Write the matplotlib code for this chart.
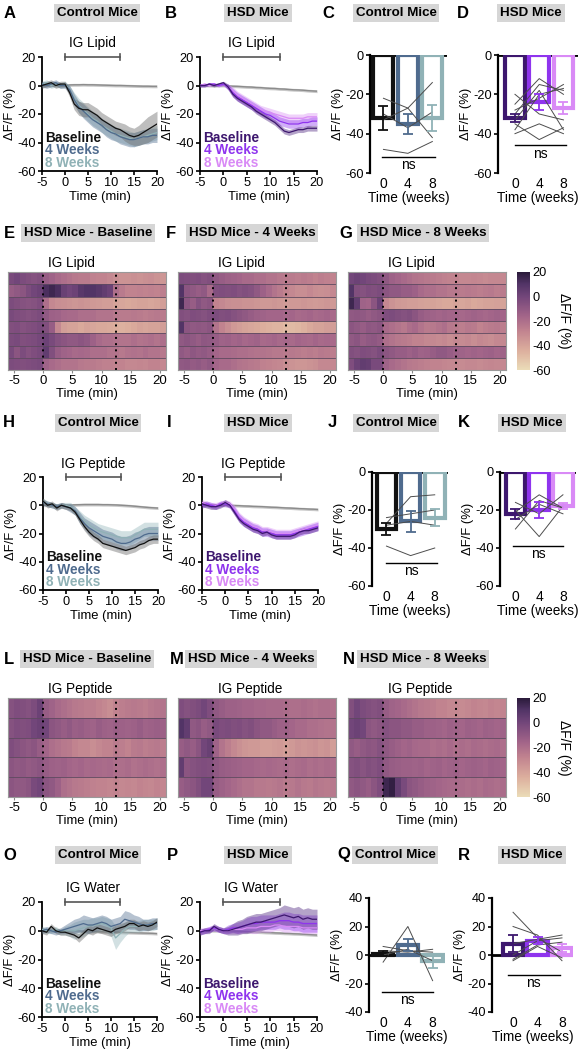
import numpy as np
import matplotlib
matplotlib.use("Agg")
import matplotlib.pyplot as plt
from matplotlib.colors import LinearSegmentedColormap

plt.rcParams['font.family'] = ['Liberation Sans', 'DejaVu Sans']
plt.rcParams['axes.unicode_minus'] = False

# ---------------------------------------------------------------- data
time_min = list(range(-5, 21))
ref_sem = 1.0

# Lipid, control (A)
lip_ctrl_base = [0, 1, 2, 0, 1, 1, -5, -13, -16, -17, -17, -19, -21, -24, -26, -28, -30, -31, -33, -35, -36, -35, -33, -31, -29, -27]
lip_ctrl_base_sem = [2, 2, 2, 2, 2, 2, 3, 4, 5, 5, 5, 5, 5, 5, 5, 5, 5, 5, 6, 6, 6, 7, 8, 9, 9, 9]
lip_ctrl_w4 = [1, 0, 1, 2, 0, 0, -3, -10, -15, -18, -21, -24, -26, -28, -31, -33, -34, -36, -37, -38, -38, -37, -36, -36, -35, -35]
lip_ctrl_w4_sem = [2, 2, 2, 2, 2, 2, 3, 4, 4, 5, 5, 5, 5, 5, 5, 5, 5, 5, 5, 5, 5, 5, 5, 5, 5, 5]
lip_ctrl_w8 = [1, 2, 0, 1, 0, 1, -3, -9, -14, -17, -20, -23, -25, -28, -30, -32, -34, -35, -36, -37, -38, -37, -36, -35, -34, -33]
lip_ctrl_w8_sem = [2, 2, 2, 2, 2, 2, 3, 4, 5, 5, 5, 5, 5, 5, 5, 5, 5, 5, 5, 5, 5, 5, 5, 5, 5, 5]
lip_ctrl_ref = [0, 0, 0.2, 0, 0, 0, 0.4, 0.5, 0.5, 0.6, 0.5, 0.5, 0.4, 0.3, 0.2, 0.1, 0, 0, -0.1, -0.2, -0.3, -0.4, -0.5, -0.5, -0.6, -0.6]

# Lipid, HSD (B)
lip_hsd_base = [0, 0, 1, 0, 1, 2, -1, -6, -9, -11, -13, -15, -18, -20, -22, -24, -26, -29, -32, -33, -32, -31, -31, -30, -30, -30]
lip_hsd_base_sem = [1, 1, 1, 1, 1, 1, 2, 2, 2, 2, 2, 2, 2, 2, 2, 2, 2, 2, 2, 2, 2, 2, 2, 2, 2, 2]
lip_hsd_w4 = [0, 0, 1, 1, 0, 1, -1, -5, -8, -10, -12, -14, -16, -18, -20, -21, -23, -25, -26, -27, -27, -27, -26, -26, -25, -25]
lip_hsd_w4_sem = [1, 1, 1, 1, 1, 1, 2, 3, 3, 3, 3, 3, 3, 3, 3, 3, 3, 3, 3, 3, 3, 3, 3, 3, 3, 3]
lip_hsd_w8 = [0, 1, 0, 1, 0, 1, -1, -4, -7, -9, -11, -13, -15, -17, -18, -19, -20, -21, -22, -23, -23, -23, -23, -22, -22, -22]
lip_hsd_w8_sem = [1, 1, 1, 1, 1, 1, 2, 3, 3, 3, 3, 3, 3, 3, 3, 3, 3, 3, 3, 3, 3, 3, 3, 3, 3, 3]
lip_hsd_ref = [0, 0, 0, -0.2, 0, 0, -0.3, -0.5, -0.6, -0.8, -1.0, -1.1, -1.4, -1.5, -1.8, -2.0, -2.1, -2.4, -2.5, -2.8, -3.0, -3.1, -3.3, -3.6, -3.8, -4.0]

# Peptide, control (H)
pep_ctrl_base = [3, 0, 1, -2, 0, -1, -2, -5, -10, -15, -19, -22, -24, -27, -28, -29, -30, -31, -32, -31, -30, -28, -27, -25, -24, -24]
pep_ctrl_base_sem = [2, 2, 2, 2, 2, 2, 2, 2, 3, 3, 3, 3, 3, 3, 3, 3, 3, 3, 3, 3, 3, 3, 3, 3, 3, 3]
pep_ctrl_w4 = [2, 1, 0, -1, 0, -1, -2, -4, -9, -13, -16, -18, -20, -22, -23, -24, -26, -27, -27, -26, -24, -23, -21, -20, -20, -20]
pep_ctrl_w4_sem = [2, 2, 2, 2, 2, 2, 3, 3, 4, 4, 5, 5, 5, 5, 5, 5, 5, 5, 5, 5, 5, 5, 5, 5, 5, 5]
pep_ctrl_w8 = [3, 1, 0, -1, 0, 0, -1, -4, -8, -11, -14, -16, -18, -19, -20, -21, -22, -23, -23, -23, -21, -19, -17, -17, -17, -17]
pep_ctrl_w8_sem = [2, 2, 2, 2, 2, 2, 3, 3, 4, 4, 5, 5, 5, 5, 5, 5, 5, 5, 5, 5, 5, 5, 5, 5, 5, 5]
pep_ctrl_ref = [0, 0, 0, 0, 0, 0, 0.2, 0.3, 0.4, 0.5, 0.5, 0.5, 0.5, 0.4, 0.4, 0.3, 0.2, 0, -0.2, -0.4, -0.7, -1.0, -1.3, -1.6, -1.8, -2.0]

# Peptide, HSD (I)
pep_hsd_base = [1, 0, -1, -1, 0, 2, 0, -5, -10, -13, -15, -17, -18, -20, -19, -21, -22, -22, -22, -22, -21, -19, -18, -18, -17, -16]
pep_hsd_base_sem = [2, 2, 2, 2, 2, 2, 2, 2, 2, 2, 2, 2, 2, 2, 2, 2, 2, 2, 2, 2, 2, 2, 2, 2, 2, 2]
pep_hsd_w4 = [0, 1, 0, -1, 1, 1, 0, -4, -9, -12, -14, -16, -17, -19, -19, -20, -21, -21, -21, -21, -20, -19, -18, -17, -16, -15]
pep_hsd_w4_sem = [2, 2, 2, 2, 2, 2, 2, 3, 3, 3, 3, 3, 3, 3, 3, 3, 3, 3, 3, 3, 3, 3, 3, 3, 3, 3]
pep_hsd_w8 = [2, 1, 0, 0, 1, 2, 1, -3, -8, -11, -13, -15, -16, -18, -18, -19, -20, -20, -20, -20, -19, -18, -17, -16, -15, -14]
pep_hsd_w8_sem = [2, 2, 2, 2, 2, 2, 2, 3, 3, 3, 3, 3, 3, 3, 3, 3, 3, 3, 3, 3, 3, 3, 3, 3, 3, 3]
pep_hsd_ref = [0, 0, 0, 0, 0, 0, -0.1, -0.2, -0.3, -0.5, -0.6, -0.8, -0.9, -1.0, -1.2, -1.4, -1.5, -1.7, -1.9, -2.0, -2.2, -2.4, -2.5, -2.7, -2.8, -3.0]

# Water, control (O)
wat_ctrl_base = [0, -1, 3, 0, -1, -1, -2, -3, -5, -2, 1, 0, 2, 1, 0, -1, 1, 2, 3, 5, 5, 3, 4, 3, 4, 6]
wat_ctrl_base_sem = [2, 2, 2, 2, 2, 2, 2, 2, 3, 3, 3, 3, 3, 3, 3, 3, 3, 3, 3, 3, 3, 3, 3, 3, 3, 3]
wat_ctrl_w4 = [0, 1, 0, -1, 0, 1, 2, 3, 4, 5, 4, 4, 5, 6, 5, 3, 4, 5, 8, 7, 6, 5, 4, 4, 5, 5]
wat_ctrl_w4_sem = [2, 2, 2, 2, 2, 3, 4, 5, 5, 6, 6, 5, 5, 5, 5, 5, 5, 5, 6, 6, 5, 5, 4, 4, 4, 4]
wat_ctrl_w8 = [1, 0, 0, 1, -1, 0, 0, 0, 1, 2, 3, 4, 4, 5, 4, 2, -5, -2, 1, 3, 3, 3, 4, 4, 4, 5]
wat_ctrl_w8_sem = [2, 2, 2, 2, 2, 3, 4, 6, 6, 6, 5, 5, 5, 5, 5, 6, 8, 6, 5, 4, 4, 4, 4, 4, 4, 4]
wat_ctrl_ref = [0, 0, 0, 0, 0, 0, 0, -0.1, -0.2, -0.3, -0.4, -0.5, -0.6, -0.7, -0.8, -0.9, -1.0, -1.1, -1.2, -1.3, -1.4, -1.5, -1.6, -1.7, -1.8, -2.0]

# Water, HSD (P)
wat_hsd_base = [-1, 0, 0, 3, 1, 0, 0, 1, 2, 3, 4, 5, 6, 6, 7, 8, 9, 10, 11, 10, 9, 10, 8, 9, 8, 8]
wat_hsd_base_sem = [2, 2, 2, 2, 2, 2, 3, 4, 5, 5, 6, 6, 6, 6, 6, 6, 6, 6, 7, 7, 7, 7, 7, 7, 7, 7]
wat_hsd_w4 = [-1, 0, 1, 2, 1, 0, 1, 2, 2, 3, 4, 5, 5, 6, 6, 6, 6, 7, 7, 7, 6, 6, 5, 5, 5, 5]
wat_hsd_w4_sem = [2, 2, 2, 2, 2, 2, 3, 3, 4, 4, 5, 5, 5, 5, 5, 5, 5, 5, 6, 6, 6, 6, 6, 6, 6, 6]
wat_hsd_w8 = [0, 0, 1, 2, 1, 0, 0, 1, 1, 1, 2, 2, 2, 3, 3, 3, 4, 4, 3, 3, 3, 3, 2, 2, 2, 2]
wat_hsd_w8_sem = [2, 2, 2, 2, 2, 2, 2, 3, 3, 3, 3, 4, 4, 4, 4, 4, 4, 4, 4, 4, 4, 4, 4, 4, 4, 4]
wat_hsd_ref = [0, 0, 0, 0, 0, 0, -0.1, -0.2, -0.4, -0.5, -0.6, -0.8, -0.9, -1.0, -1.2, -1.3, -1.5, -1.6, -1.8, -1.9, -2.1, -2.2, -2.4, -2.6, -2.8, -3.0]

# Bar charts: week categories, bar means, SEM, individual mice
week_labels = ['0', '4', '8']
lip_ctrl_bar = [-32, -35, -32]
lip_ctrl_bar_sem = [6, 5, 6.5]
lip_ctrl_mice = [[-22, -27, -14], [-30, -37, -29], [-33, -27, -42], [-48, -50, -44]]
lip_hsd_bar = [-32, -24, -27]
lip_hsd_bar_sem = [2, 4, 3]
lip_hsd_mice = [[-25, -12, -20], [-30, -15, -18], [-38, -20, -17], [-40, -35, -40],
                [-20, -30, -33], [-35, -43, -37], [-28, -22, -15], [-33, -18, -38]]
pep_ctrl_bar = [-30, -26, -24]
pep_ctrl_bar_sem = [3, 5.5, 4.5]
pep_ctrl_mice = [[-27, -13, -12], [-24, -22, -20], [-28, -26, -28], [-39, -44, -40]]
pep_hsd_bar = [-22, -20, -18]
pep_hsd_bar_sem = [2.5, 4, 1.5]
pep_hsd_mice = [[-21, -12, -19], [-20, -34, -18], [-16, -22, -12], [-25, -17, -22], [-30, -15, -19]]
wat_ctrl_bar = [1, 7, -4]
wat_ctrl_bar_sem = [2, 4.5, 5]
wat_ctrl_mice = [[-5, 20, -18], [6, 3, 2], [3, 2, 4], [0, 4, -4]]
wat_hsd_bar = [8, 10, 5]
wat_hsd_bar_sem = [6, 2.5, 3]
wat_hsd_mice = [[30, 12, 2], [20, 14, -4], [8, 11, 14], [0, 10, 12], [-3, 7, 9], [-4, 6, -2]]

# Heatmaps (rows = mice, columns = 1-min bins from -6 to 21 min)
heat_time_edges = list(range(-6, 22))
heat_lip_base = [
    [-2, 0, -3, -5, -6, -5, -12, -15, -18, -20, -22, -24, -25, -25, -27, -28, -28, -30, -32, -34, -34, -33, -34, -33, -32, -34, -35],
    [-12, -10, -8, -3, 0, 2, 12, 15, 12, 3, 0, 2, 8, 10, 10, 8, 5, 2, -20, -25, -28, -28, -27, -28, -27, -28, -26],
    [-3, -5, -6, -7, -6, -4, -20, -30, -32, -33, -34, -35, -34, -35, -36, -37, -38, -38, -40, -41, -42, -41, -40, -40, -41, -40, -38],
    [-2, -4, -5, -6, -5, -3, -10, -14, -15, -17, -18, -18, -20, -20, -20, -22, -22, -22, -24, -25, -25, -24, -25, -26, -25, -24, -25],
    [-5, -4, -6, -5, -4, -2, -5, -12, -30, -38, -40, -40, -42, -40, -41, -42, -42, -43, -44, -45, -44, -42, -40, -41, -40, -40, -38],
    [-3, -2, -5, -4, -3, -1, 2, -2, -6, -8, -10, -10, -8, -10, -14, -18, -20, -20, -21, -22, -22, -20, -22, -21, -20, -22, -20],
    [-2, -8, -3, -6, -4, -2, 5, -5, -12, -15, -16, -18, -17, -18, -20, -20, -20, -22, -22, -24, -22, -21, -22, -20, -22, -22, -24],
    [-3, -4, -5, -4, -3, -2, -15, -18, -20, -22, -22, -22, -24, -25, -25, -26, -27, -27, -28, -28, -30, -30, -29, -30, -28, -28, -30],
]
heat_lip_w4 = [
    [-3, -4, -5, -4, -6, -5, -10, -12, -14, -15, -16, -18, -18, -20, -20, -22, -22, -24, -25, -25, -26, -25, -26, -28, -26, -27, -28],
    [10, -8, -10, -12, -10, -18, -5, -4, -5, -4, -6, -5, -6, -10, -14, -18, -22, -25, -28, -30, -32, -32, -30, -32, -33, -32, -30],
    [15, -8, -12, -6, -10, -8, -28, -30, -32, -33, -33, -34, -34, -35, -36, -36, -35, -36, -37, -36, -36, -35, -36, -37, -36, -35, -36],
    [-5, -6, -4, -5, -6, -4, -3, -5, -4, -6, -8, -10, -12, -14, -15, -16, -16, -16, -17, -16, -18, -17, -16, -18, -17, -16, -18],
    [10, -8, -10, -9, -10, -8, -22, -28, -32, -36, -38, -40, -41, -42, -44, -45, -46, -46, -48, -48, -47, -45, -42, -40, -40, -38, -38],
    [-10, -8, -10, -12, -9, -10, -12, -15, -14, -16, -15, -17, -16, -15, -18, -17, -16, -18, -17, -18, -16, -17, -18, -16, -18, -17, -18],
    [-10, -12, -9, -11, -10, -12, -16, -18, -18, -19, -20, -20, -21, -22, -22, -23, -24, -24, -25, -24, -25, -26, -25, -26, -24, -25, -26],
    [-10, -9, -11, -10, -12, -10, -16, -18, -18, -20, -22, -23, -24, -25, -27, -28, -29, -30, -32, -34, -35, -35, -34, -33, -30, -30, -30],
]
heat_lip_w8 = [
    [0, 2, 0, -2, -3, -5, -10, -14, -16, -18, -20, -22, -23, -24, -25, -26, -27, -28, -28, -30, -30, -29, -30, -31, -30, -30, -30],
    [10, -5, -6, -4, -5, -3, -8, -10, -10, -12, -12, -14, -18, -20, -20, -22, -22, -24, -24, -25, -24, -25, -26, -25, -24, -26, -25],
    [15, 5, -15, -16, -8, 2, -30, -34, -36, -37, -38, -38, -39, -40, -40, -41, -42, -42, -40, -41, -40, -42, -41, -40, -40, -39, -40],
    [-10, -9, -10, -12, -10, -8, -4, -3, -5, -6, -5, -8, -12, -14, -15, -16, -15, -16, -16, -17, -16, -15, -16, -17, -16, -15, -16],
    [-8, -10, -12, -9, -10, -8, -18, -20, -22, -24, -20, -18, -22, -25, -24, -22, -20, -24, -25, -26, -24, -25, -28, -26, -25, -24, -26],
    [-10, -8, -12, -10, -9, -11, -20, -22, -24, -25, -26, -28, -28, -30, -30, -31, -30, -32, -30, -31, -30, -32, -30, -31, -32, -30, -30],
    [-5, -6, -4, -5, -6, -3, -8, -10, -12, -12, -14, -12, -15, -14, -12, -10, -10, -12, -14, -15, -16, -15, -16, -15, -14, -16, -15],
    [-4, 2, 5, 4, -2, -2, -15, -18, -20, -22, -24, -25, -26, -27, -28, -28, -29, -30, -30, -31, -30, -30, -31, -30, -29, -30, -30],
]
heat_pep_base = [
    [-6, -4, -5, -6, -3, 2, -12, -15, -18, -20, -22, -24, -25, -26, -26, -28, -30, -32, -28, -26, -25, -24, -25, -26, -24, -23, -22],
    [-6, -4, -5, -4, 0, 2, 0, -8, -10, -12, -10, -13, -12, -14, -15, -12, -14, -15, -13, -14, -15, -14, -12, -15, -14, -13, -14],
    [-4, -6, -8, -10, -8, -12, -16, -20, -22, -24, -25, -28, -30, -30, -32, -30, -28, -28, -25, -26, -28, -25, -24, -26, -25, -24, -26],
    [-8, -10, -9, -11, -10, -8, -12, -14, -15, -14, -16, -17, -16, -18, -17, -18, -19, -18, -20, -20, -19, -21, -20, -19, -20, -21, -20],
    [-8, -10, -10, -8, -2, 0, -8, -10, -14, -20, -22, -24, -25, -26, -27, -28, -28, -29, -28, -30, -29, -30, -28, -29, -30, -28, -29],
]
heat_pep_w4 = [
    [-4, -6, -5, -3, 0, -4, -10, -12, -14, -14, -15, -16, -16, -17, -17, -18, -18, -18, -19, -20, -20, -19, -20, -21, -20, -20, -21],
    [10, 5, -10, -8, -12, -10, -2, -4, -3, -5, -4, -6, -5, -8, -10, -10, -12, -14, -14, -16, -18, -18, -20, -20, -21, -22, -22],
    [-12, -10, -12, -8, 0, 3, -15, -22, -26, -30, -33, -35, -36, -36, -38, -38, -37, -36, -38, -36, -34, -35, -34, -33, -35, -34, -38],
    [5, -8, -6, -5, -4, -5, -10, -12, -13, -14, -15, -16, -16, -17, -18, -17, -18, -19, -18, -20, -19, -18, -20, -19, -20, -19, -20],
    [-12, -10, -8, -5, 0, 0, -12, -14, -16, -18, -20, -22, -22, -24, -24, -25, -24, -23, -25, -24, -22, -24, -25, -23, -24, -25, -24],
]
heat_pep_w8 = [
    [-5, 0, -3, -5, -6, -5, -12, -15, -16, -18, -20, -22, -24, -25, -26, -28, -28, -30, -30, -31, -30, -28, -29, -30, -28, -29, -28],
    [0, 2, 0, -8, -10, -8, -6, -8, -8, -10, -10, -12, -12, -14, -14, -15, -16, -14, -15, -16, -14, -15, -16, -14, -15, -16, -15],
    [-10, -12, -10, -8, -9, -6, -10, -12, -14, -16, -15, -17, -18, -18, -20, -19, -20, -18, -20, -19, -20, -18, -19, -20, -19, -18, -20],
    [-6, -5, -7, -5, -6, -4, -10, -12, -13, -14, -14, -15, -14, -16, -15, -14, -16, -15, -14, -16, -15, -14, -15, -16, -14, -15, -16],
    [-10, -8, -10, -12, -8, -4, 15, 18, 5, -2, -8, -10, -12, -14, -15, -16, -17, -18, -18, -19, -20, -19, -20, -18, -19, -20, -19],
]

# ---------------------------------------------------------------- style
CTRL = ['#111111', '#4f6b8e', '#90b2b6']
CTRL_BAND = ['#6f6f6f', '#5d7898', '#9cbcbf']
HSD = ['#3d176e', '#8f34ee', '#d98af6']
HSD_BAND = ['#5a3388', '#9b4cf0', '#dc9af5']
LEG = ['Baseline', '4 Weeks', '8 Weeks']
cmap = LinearSegmentedColormap.from_list(
    'mauve', [(0.0, '#ebdcb8'), (0.2, '#dcae9d'), (0.4, '#c1838f'), (0.55, '#a36589'),
              (0.75, '#73467a'), (0.88, '#523466'), (1.0, '#2a1a3a')])

W, H = 580, 1050
fig = plt.figure(figsize=(W / 100, H / 100), dpi=100)
FS = 9.2


def px_axes(x0, y0, x1, y1):
    return fig.add_axes([x0 / W, 1 - y1 / H, (x1 - x0) / W, (y1 - y0) / H])


def ftext(x, y, s, **kw):
    fig.text(x / W, 1 - y / H, s, **kw)


def header(letter, lx, title, cx, y):
    ftext(lx, y, letter, fontsize=12, fontweight='bold', ha='left', va='center')
    ftext(cx, y, title, fontsize=9.6, fontweight='bold', ha='center', va='center',
          bbox=dict(boxstyle='square,pad=0.22', fc='#d6d6d6', ec='none'))


def style_axes(ax):
    for s in ['top', 'right']:
        ax.spines[s].set_visible(False)
    for s in ['left', 'bottom']:
        ax.spines[s].set_linewidth(1.3)
    ax.tick_params(labelsize=FS, length=3, width=1.2, pad=1.5)


def line_panel(box, series, ref, colors, bands, stim):
    ax = px_axes(*box)
    t = np.array(time_min)
    r = np.array(ref)
    ax.fill_between(t, r - ref_sem, r + ref_sem, color='#c8c8c8', lw=0, zorder=1)
    ax.plot(t, r, color='#8c8c8c', lw=1.0, zorder=2)
    for (m, s), b in reversed(list(zip(series, bands))):
        m = np.array(m, float); s = np.array(s, float)
        ax.fill_between(t, m - s, m + s, color=b, alpha=0.45, lw=0, zorder=3)
    for (m, s), c in reversed(list(zip(series, colors))):
        ax.plot(t, m, color=c, lw=0.9, zorder=4)
    ax.set_xlim(-5, 20)
    ax.set_ylim(-60, 20)
    ax.set_xticks([-5, 0, 5, 10, 15, 20])
    ax.set_yticks([-60, -40, -20, 0, 20])
    style_axes(ax)
    ax.set_xlabel('Time (min)', fontsize=FS + 0.2, labelpad=1)
    ax.set_ylabel('ΔF/F (%)', fontsize=FS + 0.2, labelpad=1)
    ax.plot([0, 12], [20, 20], color='#555555', lw=1.2, clip_on=False)
    ax.plot([0, 0], [18, 22], color='#555555', lw=1.2, clip_on=False)
    ax.plot([12, 12], [18, 22], color='#555555', lw=1.2, clip_on=False)
    ax.text(6, 29.5, stim, ha='center', va='center', fontsize=9.8, clip_on=False)
    for i, (lab, c) in enumerate(zip(LEG, colors)):
        ax.text(0.03, 0.29 - i * 0.11, lab, transform=ax.transAxes, color=c,
                fontweight='bold', fontsize=9.8, va='center', ha='left')
    return ax


def bar_panel(box, xlim, ylim, yticks, means, sems, mice, colors, ns_y, ns_x):
    ax = px_axes(*box)
    x = np.arange(3)
    ax.axhline(0, color='k', lw=2, zorder=1)
    ax.bar(x, means, width=0.82, facecolor='white', edgecolor=colors, linewidth=3, zorder=2)
    for xi, m, s, c in zip(x, means, sems, colors):
        ax.errorbar(xi, m, yerr=s, fmt='none', ecolor=c, capsize=3.5, elinewidth=1.3,
                    capthick=1.3, zorder=5)
    for row in mice:
        ax.plot(x, row, color='#4d4d4d', lw=0.7, zorder=4)
    ax.plot(ns_x, [ns_y, ns_y], color='k', lw=1)
    ax.text(np.mean(ns_x), ns_y - 0.6, 'ns', ha='center', va='top', fontsize=10)
    ax.set_xlim(*xlim)
    ax.set_ylim(*ylim)
    ax.set_yticks(yticks)
    ax.set_xticks(x)
    ax.set_xticklabels(week_labels)
    style_axes(ax)
    ax.spines['left'].set_linewidth(1.6)
    ax.spines['bottom'].set_visible(False)
    ax.tick_params(axis='x', length=0, labelsize=10, pad=3)
    ax.set_xlabel('Time (weeks)', fontsize=9.8, labelpad=0)
    ax.set_ylabel('ΔF/F (%)', fontsize=FS + 0.2, labelpad=1)
    return ax


def heat_panel(box, data, stim):
    ax = px_axes(*box)
    arr = np.array(data, float)
    n = arr.shape[0]
    mesh = ax.pcolormesh(heat_time_edges, np.arange(n + 1), arr, cmap=cmap,
                         vmin=-60, vmax=20, shading='flat')
    ax.set_ylim(n, 0)
    ax.set_xlim(heat_time_edges[0], heat_time_edges[-1])
    for r in range(1, n):
        ax.axhline(r, color='#5e4a60', lw=0.6)
    for xv in (0, 12.5):
        ax.axvline(xv, color='k', lw=1.4, linestyle=(0, (1, 2.2)))
    ax.set_xticks([-5, 0, 5, 10, 15, 20])
    ax.set_yticks([])
    ax.tick_params(axis='x', length=2, color='#888888', labelsize=FS + 0.3, pad=1.5)
    for s in ax.spines.values():
        s.set_color('#999999'); s.set_linewidth(0.8)
    ax.set_xlabel('Time (min)', fontsize=FS + 0.2, labelpad=1)
    ax.text(0.8, 1.09, stim, transform=ax.get_xaxis_transform(), ha='left',
            va='center', fontsize=9.8)
    return mesh


def colorbar(mesh, box):
    cax = px_axes(*box)
    cb = fig.colorbar(mesh, cax=cax, ticks=[20, 0, -20, -40, -60])
    cb.outline.set_visible(False)
    cax.tick_params(labelsize=FS, length=0, pad=2)
    cy = (box[1] + box[3]) / 2
    ftext(564, cy, 'ΔF/F (%)', rotation=270, fontsize=10, ha='center', va='center')


# ---------------------------------------------------------------- row 1
header('A', 4, 'Control Mice', 97, 13)
header('B', 165, 'HSD Mice', 258, 13)
header('C', 322, 'Control Mice', 396, 13)
header('D', 457, 'HSD Mice', 531, 13)
line_panel((42, 57, 157, 171),
           [(lip_ctrl_base, lip_ctrl_base_sem), (lip_ctrl_w4, lip_ctrl_w4_sem), (lip_ctrl_w8, lip_ctrl_w8_sem)],
           lip_ctrl_ref, CTRL, CTRL_BAND, 'IG Lipid')
line_panel((200, 57, 317, 171),
           [(lip_hsd_base, lip_hsd_base_sem), (lip_hsd_w4, lip_hsd_w4_sem), (lip_hsd_w8, lip_hsd_w8_sem)],
           lip_hsd_ref, HSD, HSD_BAND, 'IG Lipid')
bar_panel((370, 55, 447, 173), (-0.55, 2.6), (-60, 0), [-60, -40, -20, 0],
          lip_ctrl_bar, lip_ctrl_bar_sem, lip_ctrl_mice, CTRL, -52, [-0.05, 2.1])
bar_panel((498, 55, 578, 173), (-0.7, 2.6), (-60, 0), [-60, -40, -20, 0],
          lip_hsd_bar, lip_hsd_bar_sem, lip_hsd_mice, HSD, -46, [0.0, 2.1])

# ---------------------------------------------------------------- row 2
header('E', 4, 'HSD Mice - Baseline', 88, 233)
header('F', 166, 'HSD Mice - 4 Weeks', 252, 233)
header('G', 339, 'HSD Mice - 8 Weeks', 423, 233)
m = heat_panel((8, 272, 166, 370), heat_lip_base, 'IG Lipid')
heat_panel((178, 272, 336, 370), heat_lip_w4, 'IG Lipid')
heat_panel((348, 272, 506, 370), heat_lip_w8, 'IG Lipid')
colorbar(m, (517, 272, 530, 370))

# ---------------------------------------------------------------- row 3
header('H', 3, 'Control Mice', 98, 423)
header('I', 167, 'HSD Mice', 258, 423)
header('J', 328, 'Control Mice', 396, 423)
header('K', 458, 'HSD Mice', 532, 423)
line_panel((43, 477, 158, 590),
           [(pep_ctrl_base, pep_ctrl_base_sem), (pep_ctrl_w4, pep_ctrl_w4_sem), (pep_ctrl_w8, pep_ctrl_w8_sem)],
           pep_ctrl_ref, CTRL, CTRL_BAND, 'IG Peptide')
line_panel((202, 477, 318, 590),
           [(pep_hsd_base, pep_hsd_base_sem), (pep_hsd_w4, pep_hsd_w4_sem), (pep_hsd_w8, pep_hsd_w8_sem)],
           pep_hsd_ref, HSD, HSD_BAND, 'IG Peptide')
bar_panel((372, 472, 448, 586), (-0.6, 2.55), (-60, 0), [-60, -40, -20, 0],
          pep_ctrl_bar, pep_ctrl_bar_sem, pep_ctrl_mice, CTRL, -48, [0.0, 2.1])
bar_panel((500, 472, 576, 586), (-0.65, 2.55), (-60, 0), [-60, -40, -20, 0],
          pep_hsd_bar, pep_hsd_bar_sem, pep_hsd_mice, HSD, -39, [-0.1, 2.0])

# ---------------------------------------------------------------- row 4
header('L', 4, 'HSD Mice - Baseline', 87, 659)
header('M', 170, 'HSD Mice - 4 Weeks', 251, 659)
header('N', 343, 'HSD Mice - 8 Weeks', 423, 659)
m = heat_panel((8, 698, 166, 797), heat_pep_base, 'IG Peptide')
heat_panel((178, 698, 336, 797), heat_pep_w4, 'IG Peptide')
heat_panel((348, 698, 506, 797), heat_pep_w8, 'IG Peptide')
colorbar(m, (517, 698, 530, 797))

# ---------------------------------------------------------------- row 5
header('O', 3, 'Control Mice', 98, 855)
header('P', 167, 'HSD Mice', 258, 855)
header('Q', 337, 'Control Mice', 395, 855)
header('R', 458, 'HSD Mice', 532, 855)
line_panel((42, 902, 157, 1017),
           [(wat_ctrl_base, wat_ctrl_base_sem), (wat_ctrl_w4, wat_ctrl_w4_sem), (wat_ctrl_w8, wat_ctrl_w8_sem)],
           wat_ctrl_ref, CTRL, CTRL_BAND, 'IG Water')
line_panel((200, 902, 317, 1017),
           [(wat_hsd_base, wat_hsd_base_sem), (wat_hsd_w4, wat_hsd_w4_sem), (wat_hsd_w8, wat_hsd_w8_sem)],
           wat_hsd_ref, HSD, HSD_BAND, 'IG Water')
bar_panel((369, 898, 445, 1012), (-0.57, 2.5), (-40, 40), [-40, -20, 0, 20, 40],
          wat_ctrl_bar, wat_ctrl_bar_sem, wat_ctrl_mice, CTRL, -26, [-0.05, 2.0])
bar_panel((492, 898, 573, 1012), (-0.86, 2.45), (-40, 40), [-40, -20, 0, 20, 40],
          wat_hsd_bar, wat_hsd_bar_sem, wat_hsd_mice, HSD, -14, [-0.2, 1.9])

fig.savefig('out.png', dpi=100, facecolor='white')
